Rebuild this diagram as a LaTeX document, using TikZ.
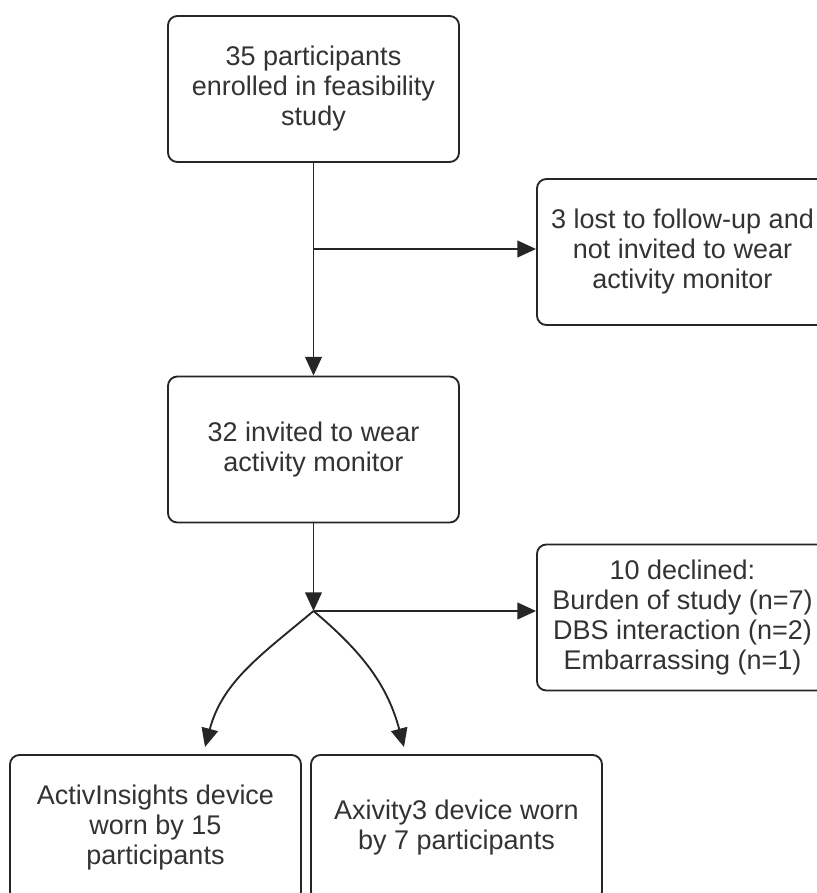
\documentclass[tikz,border=0pt]{standalone}
\usepackage{fontspec}
\setmainfont{Liberation Sans}
\usetikzlibrary{calc,arrows.meta}

\begin{document}
\begin{tikzpicture}[x=0.75pt,y=-0.75pt,
  stage/.style={draw=black!85, line width=1.4pt, rounded corners=7pt, fill=white,
    minimum width=218.25pt, minimum height=109.5pt, inner sep=0pt, align=center,
    text=black!80, font=\fontsize{20.25}{22.5}\selectfont},
  flow/.style={draw=black!85, line width=1.4pt, -{Triangle[length=14pt,width=12.5pt]}}]

  % Keep the page at the size of the original chart
  \useasboundingbox (0,0) rectangle (817,893);

  % Boxes of the main line
  \node[stage] (enrolled) at (313.5,89)  {35 participants\\enrolled in feasibility\\study};
  \node[stage] (invited)  at (313.5,449.5) {32 invited to wear\\activity monitor};

  % Boxes on the right side
  \node[stage] (lost)     at (682.5,252)  {3 lost to follow-up and\\not invited to wear\\activity monitor};
  \node[stage] (declined) at (682.5,617.5) {10 declined:\\Burden of study (n=7)\\DBS interaction (n=2)\\Embarrassing (n=1)};

  % Devices worn
  \node[stage] (activ)   at (155.5,828) {ActivInsights device\\worn by 15\\participants};
  \node[stage] (axivity) at (456.5,828) {Axivity3 device worn\\by 7 participants};

  % Points where the lines split
  \coordinate (branch) at (313.5,249);
  \coordinate (junc)   at (313.5,611);
  \coordinate (tipA)   at (205,747);
  \coordinate (tipB)   at (404,747);

  % Connectors
  \draw[flow] (enrolled.south) -- (invited.north);
  \draw[flow] (branch) -- (branch -| lost.west);
  \draw[flow] (invited.south) -- (junc);
  \draw[flow] (junc) -- (junc -| declined.west);
  \draw[flow] (junc) to[out=220,in=75] (tipA);
  \draw[flow] (junc) to[out=-40,in=105] (tipB);

\end{tikzpicture}
\end{document}
